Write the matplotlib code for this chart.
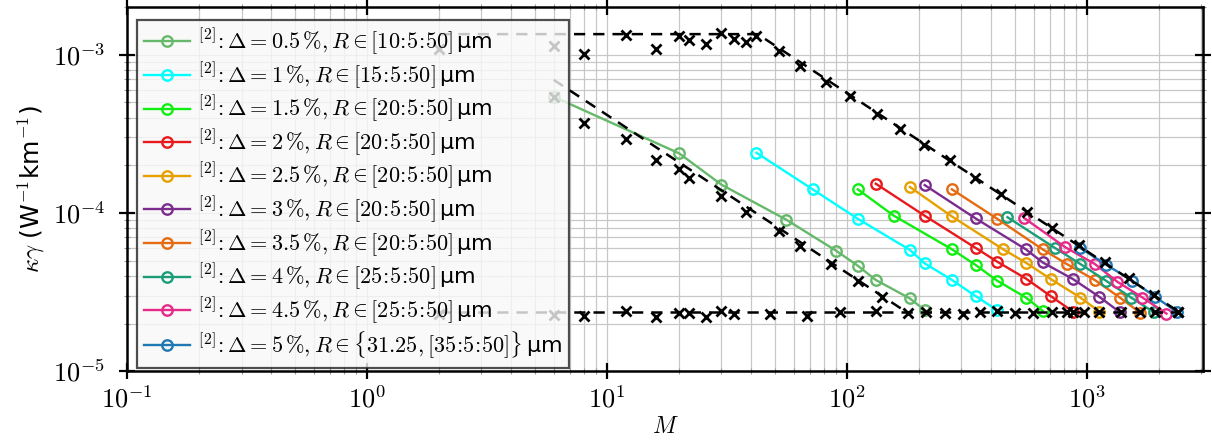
import math
import matplotlib
matplotlib.use("Agg")
import matplotlib.pyplot as plt
from matplotlib.ticker import FuncFormatter, LogLocator, NullFormatter

plt.rcParams["mathtext.fontset"] = "cm"
plt.rcParams["font.family"] = ["DejaVu Sans"]

# ---- data (M, kappa*gamma) ----
deltas = ["0.5", "1", "1.5", "2", "2.5", "3", "3.5", "4", "4.5", "5"]
r_ranges = [r"[10\!:\!5\!:\!50]", r"[15\!:\!5\!:\!50]", r"[20\!:\!5\!:\!50]",
            r"[20\!:\!5\!:\!50]", r"[20\!:\!5\!:\!50]", r"[20\!:\!5\!:\!50]",
            r"[20\!:\!5\!:\!50]", r"[25\!:\!5\!:\!50]", r"[25\!:\!5\!:\!50]",
            r"\{31.25, [35\!:\!5\!:\!50]\}"]
colors = ["#66b96a", "#00ffff", "#11ee11", "#e8191c", "#e6a000", "#7b2d8e",
          "#e66a10", "#1b9e77", "#e7298a", "#1f78b4"]

m_05 = [6, 20, 30, 56, 90, 111, 132, 183, 211]
k_05 = [5.43e-4, 2.38e-4, 1.51e-4, 9.05e-5, 5.78e-5, 4.64e-5, 3.77e-5, 2.88e-5, 2.43e-5]
m_10 = [42, 72, 111, 183, 211, 274, 344, 423]
k_10 = [2.40e-4, 1.41e-4, 9.19e-5, 5.84e-5, 4.80e-5, 3.77e-5, 2.98e-5, 2.43e-5]
m_15 = [111, 157, 274, 344, 423, 557, 656]
k_15 = [1.41e-4, 9.60e-5, 5.89e-5, 4.69e-5, 3.73e-5, 2.92e-5, 2.40e-5]
m_20 = [132, 211, 344, 423, 557, 707, 875]
k_20 = [1.53e-4, 9.60e-5, 6.01e-5, 4.92e-5, 3.85e-5, 2.98e-5, 2.38e-5]
m_25 = [183, 274, 448, 557, 707, 939, 1127]
k_25 = [1.46e-4, 9.50e-5, 5.89e-5, 4.85e-5, 3.82e-5, 2.92e-5, 2.38e-5]
m_30 = [211, 344, 557, 654, 875, 1127, 1372]
k_30 = [1.50e-4, 9.23e-5, 5.89e-5, 4.87e-5, 3.82e-5, 2.95e-5, 2.36e-5]
m_35 = [274, 423, 654, 824, 1079, 1372, 1668]
k_35 = [1.41e-4, 9.19e-5, 5.89e-5, 4.76e-5, 3.77e-5, 2.92e-5, 2.34e-5]
m_40 = [467, 736, 939, 1202, 1528, 1902]
k_40 = [9.40e-5, 6.01e-5, 4.76e-5, 3.73e-5, 2.92e-5, 2.36e-5]
m_45 = [549, 813, 1079, 1341, 1705, 2148]
k_45 = [9.27e-5, 6.07e-5, 4.76e-5, 3.67e-5, 2.92e-5, 2.31e-5]
m_50 = [939, 1202, 1549, 1926, 2380]
k_50 = [6.01e-5, 4.71e-5, 3.73e-5, 2.95e-5, 2.36e-5]

series_m = [m_05, m_10, m_15, m_20, m_25, m_30, m_35, m_40, m_45, m_50]
series_k = [k_05, k_10, k_15, k_20, k_25, k_30, k_35, k_40, k_45, k_50]

# black dashed bounds
top_m = [2, 42.5, 2440]
top_k = [1.35e-3, 1.35e-3, 2.35e-5]
mid_m = [6, 178]
mid_k = [6.94e-4, 2.35e-5]
bot_m = [2, 2440]
bot_k = [2.35e-5, 2.35e-5]

# black crosses
xtop_m = [2, 6, 8, 12, 16, 20, 22, 26, 30, 34, 38, 42, 52, 64, 82, 103, 133, 167,
          209, 268, 342, 438, 562, 718, 931, 1192, 1492, 1911, 2394]
xtop_k = [1.09e-3, 1.14e-3, 1.01e-3, 1.33e-3, 1.087e-3, 1.31e-3, 1.245e-3, 1.17e-3,
          1.37e-3, 1.26e-3, 1.20e-3, 1.32e-3, 1.06e-3, 8.55e-4, 6.77e-4, 5.49e-4,
          4.22e-4, 3.39e-4, 2.68e-4, 2.17e-4, 1.66e-4, 1.31e-4, 1.02e-4, 8.01e-5,
          6.26e-5, 4.92e-5, 3.88e-5, 3.04e-5, 2.37e-5]
xmid_m = [6, 8, 12, 16, 20, 22, 30, 38, 52, 64, 86, 111, 140]
xmid_k = [5.43e-4, 3.72e-4, 2.93e-4, 2.15e-4, 1.90e-4, 1.66e-4, 1.28e-4, 1.02e-4,
          7.65e-5, 6.19e-5, 4.76e-5, 3.70e-5, 2.94e-5]
xbot_m = [2, 6, 8, 12, 16, 20, 22, 26, 30, 34, 48, 68, 94, 132, 180, 213, 257, 304,
          359, 424, 501, 594, 713, 823, 875, 976, 1127, 1386, 1663, 1920, 2394]
xbot_k = [2.31e-5, 2.27e-5, 2.22e-5, 2.40e-5, 2.20e-5, 2.34e-5, 2.34e-5, 2.20e-5,
          2.40e-5, 2.31e-5, 2.30e-5, 2.22e-5, 2.37e-5, 2.39e-5, 2.34e-5, 2.37e-5,
          2.34e-5, 2.29e-5, 2.35e-5, 2.40e-5, 2.32e-5, 2.34e-5, 2.37e-5, 2.37e-5,
          2.37e-5, 2.35e-5, 2.37e-5, 2.37e-5, 2.37e-5, 2.37e-5, 2.37e-5]

fig = plt.figure(figsize=(12.12, 4.45), dpi=100)
ax = fig.add_axes([0.1048, 0.166, 0.8878, 0.818])

for m, k, d, r, c in zip(series_m, series_k, deltas, r_ranges, colors):
    lbl = r"$^{\mathsf{[2]}}\!: \Delta = %s\,\%%, R \in %s\,$µm" % (d, r)
    ax.plot(m, k, "-o", color=c, lw=1.7, ms=7.5, mew=1.7, mfc="none", label=lbl, zorder=3)

for m, k in [(top_m, top_k), (mid_m, mid_k), (bot_m, bot_k)]:
    ax.plot(m, k, color="black", lw=1.8, dashes=(4.5, 3.2), zorder=4)

for m, k in [(xtop_m, xtop_k), (xmid_m, xmid_k), (xbot_m, xbot_k)]:
    ax.plot(m, k, "x", color="black", ms=6.5, mew=2.0, zorder=5)

ax.set_xscale("log")
ax.set_yscale("log")
ax.set_xlim(1e-1, 3.05e3)
ax.set_ylim(1e-5, 2.0e-3)

fmt = FuncFormatter(lambda v, p: r"$10^{%d}$" % round(math.log10(v)))
ax.xaxis.set_major_formatter(fmt)
ax.yaxis.set_major_formatter(fmt)
ax.xaxis.set_minor_locator(LogLocator(base=10, subs=range(2, 10), numticks=20))
ax.yaxis.set_minor_locator(LogLocator(base=10, subs=range(2, 10), numticks=20))
ax.xaxis.set_minor_formatter(NullFormatter())
ax.yaxis.set_minor_formatter(NullFormatter())

ax.grid(True, which="both", color="#c8c8c8", lw=0.9, zorder=0)
ax.set_axisbelow(True)
ax.tick_params(which="major", direction="inout", length=11, width=1.6,
               top=True, right=True, labelsize=19, pad=6)
ax.tick_params(axis="y", which="major", pad=10)
ax.tick_params(which="minor", direction="inout", length=5, width=0.8, color="#999999",
               top=True, right=True)
for s in ax.spines.values():
    s.set_linewidth(1.8)

ax.set_xlabel(r"$M$", fontsize=17, labelpad=0)
ax.set_ylabel(r"$\kappa\gamma\ $(W$^{-1}$km$^{-1}$)", fontsize=18, labelpad=4)

leg = ax.legend(loc="upper left", bbox_to_anchor=(0.0093, 0.964), borderaxespad=0,
                fontsize=16, frameon=True, fancybox=False,
                edgecolor="#222222", facecolor="#f8f8f8", framealpha=0.8,
                handlelength=2.1, labelspacing=0.155, handletextpad=0.35, borderpad=0.3)
leg.get_frame().set_linewidth(1.6)

fig.savefig("out.png", dpi=100)
